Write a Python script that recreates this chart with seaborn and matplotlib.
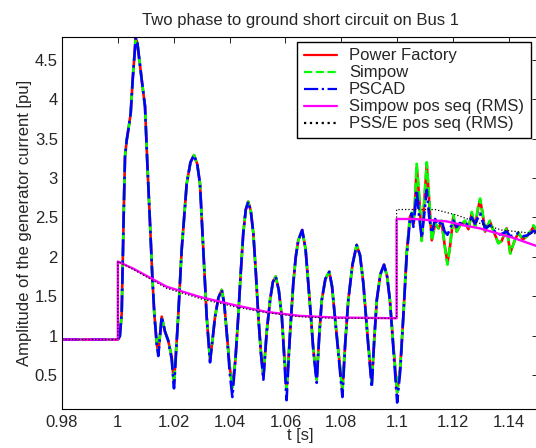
import matplotlib
matplotlib.use("Agg")
import matplotlib.pyplot as plt
import seaborn as sns
import numpy as np
import pandas as pd

# ---------------- data ----------------
t_emt = [0.98, 1.0000, 1.0007, 1.00137, 1.00173, 1.00222, 1.00256, 1.00316, 1.00374, 1.00459,
         1.00531, 1.0064, 1.00700, 1.00853, 1.00972, 1.01054, 1.01151, 1.01233, 1.01305, 1.0139,
         1.01448, 1.0157, 1.01688, 1.0180, 1.01927, 1.0201,
         1.0216, 1.02285, 1.02465, 1.0260, 1.02726, 1.0284, 1.0294, 1.0306, 1.0318, 1.0330,
         1.0339, 1.0348, 1.0360, 1.0372, 1.0381, 1.0390, 1.0400, 1.0410,
         1.0421, 1.0431, 1.0440, 1.0449, 1.0458, 1.0467, 1.0476, 1.0485, 1.0494, 1.0503, 1.0512, 1.0521,
         1.0533, 1.0545, 1.0555, 1.0565, 1.0576, 1.0587, 1.0596, 1.0604,
         1.0616, 1.0628, 1.0637, 1.0646, 1.0660, 1.0672, 1.0682, 1.0691, 1.0700, 1.0712,
         1.0721, 1.0730, 1.0743, 1.0757, 1.0767, 1.0777, 1.0791, 1.0804,
         1.0814, 1.0825, 1.0840, 1.0855, 1.0867, 1.0879, 1.0894, 1.0909,
         1.0918, 1.0927, 1.0940, 1.0953, 1.0964, 1.0974, 1.0988, 1.1000]
v_emt = [0.95, 0.95, 0.99, 1.28, 1.92, 2.76, 3.27, 3.48, 3.61, 3.82,
         4.25, 4.78, 4.71, 4.25, 3.91, 3.19, 2.43, 1.75, 1.28, 0.90,
         0.78, 1.24, 1.05, 0.94, 0.73, 0.39,
         1.24, 2.09, 2.93, 3.20, 3.29, 3.18, 2.93, 2.09, 1.24, 0.69,
         0.95, 1.24, 1.48, 1.58, 1.40, 1.03, 0.62, 0.34,
         0.70, 1.24, 1.80, 2.30, 2.60, 2.70, 2.58, 2.30, 1.80, 1.24, 0.80, 0.48,
         1.05, 1.45, 1.68, 1.75, 1.58, 1.24, 0.75, 0.31,
         1.00, 1.66, 2.00, 2.21, 2.34, 2.10, 1.66, 1.25, 0.82, 0.44,
         1.00, 1.45, 1.72, 1.81, 1.62, 1.24, 0.75, 0.31,
         0.90, 1.45, 1.90, 2.15, 2.02, 1.66, 1.00, 0.39,
         0.95, 1.45, 1.78, 1.90, 1.75, 1.45, 0.80, 0.28]
v_pscad_fault = [0.95, 0.95, 0.99, 1.28, 1.92, 2.76, 3.27, 3.48, 3.61, 3.82,
                 4.25, 4.78, 4.71, 4.25, 3.91, 3.19, 2.43, 1.75, 1.28, 0.90,
                 0.74, 1.24, 1.05, 0.94, 0.70, 0.33,
                 1.24, 2.09, 2.93, 3.20, 3.29, 3.18, 2.93, 2.09, 1.24, 0.66,
                 0.95, 1.24, 1.48, 1.58, 1.40, 1.03, 0.55, 0.22,
                 0.70, 1.24, 1.80, 2.30, 2.60, 2.70, 2.58, 2.30, 1.80, 1.24, 0.78, 0.44,
                 1.05, 1.45, 1.68, 1.75, 1.58, 1.24, 0.70, 0.18,
                 1.00, 1.66, 2.00, 2.21, 2.34, 2.10, 1.66, 1.25, 0.80, 0.40,
                 1.00, 1.45, 1.72, 1.81, 1.62, 1.24, 0.70, 0.22,
                 0.90, 1.45, 1.90, 2.15, 2.02, 1.66, 0.98, 0.34,
                 0.95, 1.45, 1.78, 1.90, 1.75, 1.45, 0.75, 0.15]

t_post = [1.1011, 1.1022, 1.1034, 1.1046, 1.1052, 1.1058, 1.1064, 1.1070, 1.1079, 1.1088,
          1.1097, 1.1106, 1.1115, 1.1124, 1.1136, 1.1148, 1.1159, 1.1170, 1.1180, 1.1190,
          1.1201, 1.1213, 1.1225, 1.1243, 1.1255, 1.1267, 1.1279, 1.1290, 1.1297, 1.1306,
          1.1315, 1.1332, 1.1350, 1.1362, 1.1374, 1.1392, 1.1405, 1.1422, 1.1434, 1.1450,
          1.1464, 1.1478, 1.1488, 1.1505]
v_pf_post = [0.60, 1.24, 2.05, 2.51, 2.55, 2.42, 2.70, 3.14, 2.75, 2.21,
             2.70, 3.17, 2.70, 2.21, 2.42, 2.36, 2.45, 2.15, 1.92, 2.15,
             2.51, 2.32, 2.40, 2.45, 2.35, 2.55, 2.38, 2.62, 2.72, 2.55,
             2.32, 2.45, 2.28, 2.18, 2.20, 2.36, 2.05, 2.22, 2.30, 2.22,
             2.26, 2.32, 2.38, 2.32]
v_simpow_post = [0.60, 1.24, 2.05, 2.51, 2.56, 2.43, 2.72, 3.18, 2.76, 2.20,
                 2.72, 3.20, 2.72, 2.20, 2.43, 2.36, 2.46, 2.14, 1.90, 2.15,
                 2.53, 2.32, 2.40, 2.46, 2.35, 2.57, 2.38, 2.64, 2.74, 2.55,
                 2.31, 2.46, 2.28, 2.17, 2.20, 2.37, 2.04, 2.22, 2.31, 2.22,
                 2.26, 2.33, 2.40, 2.32]
v_pscad_post = [0.55, 1.24, 2.00, 2.48, 2.55, 2.38, 2.60, 2.85, 2.50, 2.24,
                2.55, 2.85, 2.50, 2.30, 2.48, 2.40, 2.46, 2.32, 2.28, 2.36,
                2.46, 2.38, 2.43, 2.38, 2.44, 2.50, 2.42, 2.50, 2.55, 2.45,
                2.36, 2.40, 2.32, 2.28, 2.29, 2.32, 2.26, 2.28, 2.30, 2.26,
                2.27, 2.30, 2.33, 2.30]

t_rms = [0.98, 1.0, 1.0, 1.0055, 1.0175, 1.0294, 1.0413, 1.0533, 1.0652, 1.0771, 1.0998,
         1.0998, 1.1058, 1.1177, 1.1237, 1.1297, 1.1356, 1.1416, 1.1505]
v_simpow_rms = [0.95, 0.95, 1.94, 1.85, 1.62, 1.49, 1.39, 1.30, 1.25, 1.23, 1.22,
                2.48, 2.48, 2.45, 2.40, 2.36, 2.30, 2.24, 2.13]
t_psse = [0.98, 1.0, 1.0, 1.0055, 1.0175, 1.0294, 1.0413, 1.0533, 1.0652, 1.0771, 1.0998,
          1.0998, 1.1136, 1.1213, 1.1291, 1.1374, 1.1480, 1.1505]
v_psse_rms = [0.95, 0.95, 1.94, 1.84, 1.60, 1.47, 1.37, 1.29, 1.24, 1.22, 1.22,
              2.60, 2.60, 2.53, 2.43, 2.34, 2.30, 2.29]

labels = ["Power Factory", "Simpow", "PSCAD", "Simpow pos seq (RMS)", "PSS/E pos seq (RMS)"]
xticks = [0.98, 1.0, 1.02, 1.04, 1.06, 1.08, 1.1, 1.12, 1.14]
xticklabels = ["0.98", "1", "1.02", "1.04", "1.06", "1.08", "1.1", "1.12", "1.14"]
yticks = [0.5, 1, 1.5, 2, 2.5, 3, 3.5, 4, 4.5]
yticklabels = ["0.5", "1", "1.5", "2", "2.5", "3", "3.5", "4", "4.5"]

# ---------------- styling ----------------
sns.set_style("white")
plt.rcParams["font.family"] = ["Liberation Sans", "DejaVu Sans"]
plt.rcParams["xtick.direction"] = "in"
plt.rcParams["ytick.direction"] = "in"

fig = plt.figure(figsize=(5.36, 4.48), dpi=100)
ax = fig.add_axes([62 / 536, 1 - 409 / 448, 476 / 536, 372 / 448])

series = [
    (t_emt + t_post, v_emt + v_pf_post, "#ff0000", "-", 1.9),
    (t_emt + t_post, v_emt + v_simpow_post, "#00ff00", "--", 1.9),
    (t_emt + t_post, v_pscad_fault + v_pscad_post, "#0000ff", "-.", 1.9),
    (t_rms, v_simpow_rms, "#ff00ff", "-", 1.7),
    (t_psse, v_psse_rms, "#000000", ":", 0.9),
]
for (tx, vy, col, ls, lw), lab in zip(series, labels):
    df = pd.DataFrame({"t": tx, "v": vy})
    sns.lineplot(data=df, x="t", y="v", ax=ax, color=col, linestyle=ls, linewidth=lw,
                 label=lab, sort=False, estimator=None)

ax.set_xlim(0.98, 0.98 + 476 / 2793)
ax.set_ylim(0.068, 4.79)
ax.set_xticks(xticks)
ax.set_xticklabels(xticklabels)
ax.set_yticks(yticks)
ax.set_yticklabels(yticklabels)
ax.tick_params(axis="both", labelsize=12, length=4, width=0.6, color="black",
               top=True, right=True)
ax.tick_params(axis="x", pad=4)
ax.tick_params(axis="y", pad=3)
for s in ax.spines.values():
    s.set_color("black")
    s.set_linewidth(0.8)

ax.set_xlabel("t [s]", fontsize=12, labelpad=-1)
ax.set_ylabel("Amplitude of the generator current [pu]", fontsize=12, labelpad=2)
ax.set_title("Two phase to ground short circuit on Bus 1", fontsize=12, pad=9)

leg = ax.legend(loc="upper right", bbox_to_anchor=((530.6 - 62) / 476, 1 - (41.7 - 37) / 372),
                borderaxespad=0, fontsize=12, frameon=True, fancybox=False,
                edgecolor="black", framealpha=1, handlelength=2.0, handletextpad=0.7,
                labelspacing=0.12, borderpad=0.4)
leg.get_frame().set_linewidth(1.0)
for line in leg.get_lines():
    line.set_linewidth(1.6)

fig.savefig("out.png", dpi=100)
